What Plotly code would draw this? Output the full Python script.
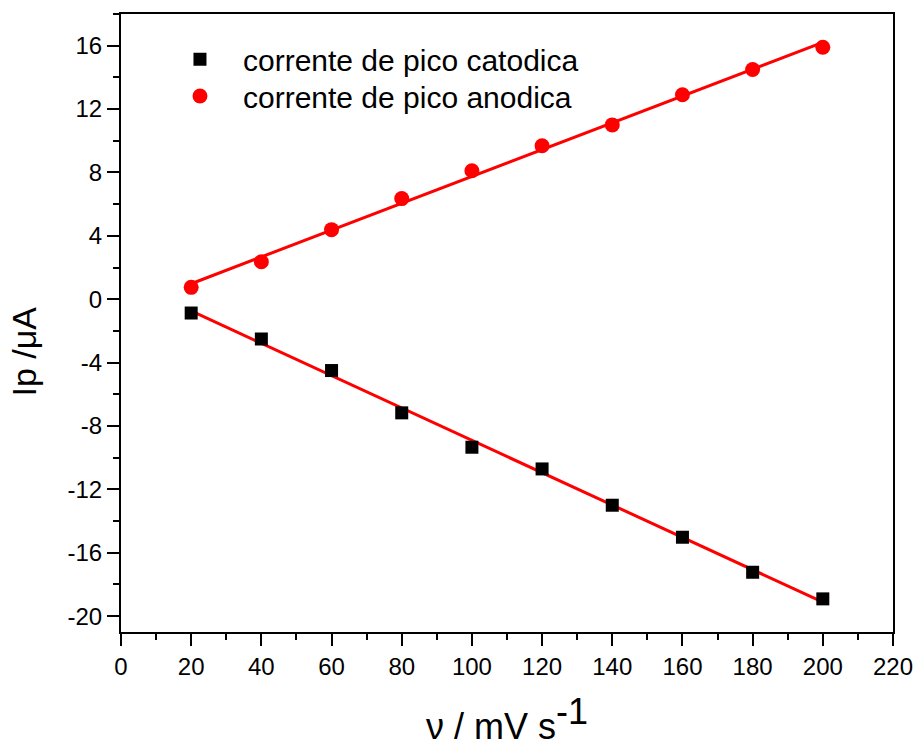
import numpy as np
import plotly.graph_objects as go

# scan rate (mV/s)
scan_rate = [20, 40, 60, 80, 100, 120, 140, 160, 180, 200]
# cathodic peak current (uA)
ip_cathodic = [-0.87, -2.51, -4.50, -7.17, -9.34, -10.71, -13.00, -15.02, -17.23, -18.91]
# anodic peak current (uA)
ip_anodic = [0.75, 2.37, 4.39, 6.35, 8.11, 9.69, 11.00, 12.90, 14.50, 15.90]

x_ticks = [0, 20, 40, 60, 80, 100, 120, 140, 160, 180, 200, 220]
x_tick_labels = ["0", "20", "40", "60", "80", "100", "120", "140", "160", "180", "200", "220"]
y_ticks = [-20, -16, -12, -8, -4, 0, 4, 8, 12, 16]
y_tick_labels = ["-20", "-16", "-12", "-8", "-4", "0", "4", "8", "12", "16"]

FONT = "Arial, Liberation Sans, sans-serif"
RED = "#ff0000"

x_arr = np.array(scan_rate, dtype=float)
fit_c = np.polyfit(x_arr, ip_cathodic, 1)
fit_a = np.polyfit(x_arr, ip_anodic, 1)
x_fit = [scan_rate[0], scan_rate[-1]]

fig = go.Figure()
fig.add_trace(go.Scatter(
    x=x_fit, y=list(np.polyval(fit_c, x_fit)), mode="lines",
    line=dict(color=RED, width=3), showlegend=False, hoverinfo="skip"))
fig.add_trace(go.Scatter(
    x=x_fit, y=list(np.polyval(fit_a, x_fit)), mode="lines",
    line=dict(color=RED, width=3), showlegend=False, hoverinfo="skip"))
fig.add_trace(go.Scatter(
    x=scan_rate, y=ip_cathodic, mode="markers", name="corrente de pico catodica",
    marker=dict(symbol="square", size=13, color="black"), legend="legend"))
fig.add_trace(go.Scatter(
    x=scan_rate, y=ip_anodic, mode="markers", name="corrente de pico anodica",
    marker=dict(symbol="circle", size=15, color=RED), legend="legend2"))

axis_common = dict(
    showline=True, linecolor="black", linewidth=2, mirror=True,
    ticks="outside", ticklen=12, tickwidth=2, tickcolor="black",
    showgrid=False, zeroline=False,
    tickfont=dict(family=FONT, size=24, color="black"),
)

legend_common = dict(
    xanchor="left", yanchor="top",
    bgcolor="rgba(0,0,0,0)", borderwidth=0,
    font=dict(family=FONT, size=30, color="black"),
    itemwidth=76,
)

fig.update_layout(
    width=916, height=747,
    paper_bgcolor="white", plot_bgcolor="white",
    margin=dict(l=121, r=23, t=14, b=115, autoexpand=False),
    font=dict(family=FONT, color="black"),
    xaxis=dict(
        range=[0, 220], tickvals=x_ticks, ticktext=x_tick_labels,
        minor=dict(dtick=10, ticks="outside", ticklen=6, tickwidth=2, tickcolor="black"),
        title=dict(text='ν / mV s<sup><span style="font-size:36px">-1</span></sup>',
                   font=dict(family=FONT, size=36), standoff=40),
        automargin=False,
        **axis_common),
    yaxis=dict(
        range=[-21, 18], tickvals=y_ticks, ticktext=y_tick_labels,
        minor=dict(dtick=2, ticks="outside", ticklen=6, tickwidth=2, tickcolor="black"),
        automargin=False,
        **axis_common),
    legend=dict(x=0.0466, y=0.969, **legend_common),
    legend2=dict(x=0.0466, y=0.9094, **legend_common),
    annotations=[dict(
        text="Ip /μA", textangle=-90, showarrow=False,
        xref="paper", yref="paper", x=-0.1263, y=0.4547,
        xanchor="center", yanchor="middle",
        font=dict(family=FONT, size=34, color="black"))],
)

fig.write_html("out.html", config={"displayModeBar": False},
               post_script="document.body.style.margin='0px';")
